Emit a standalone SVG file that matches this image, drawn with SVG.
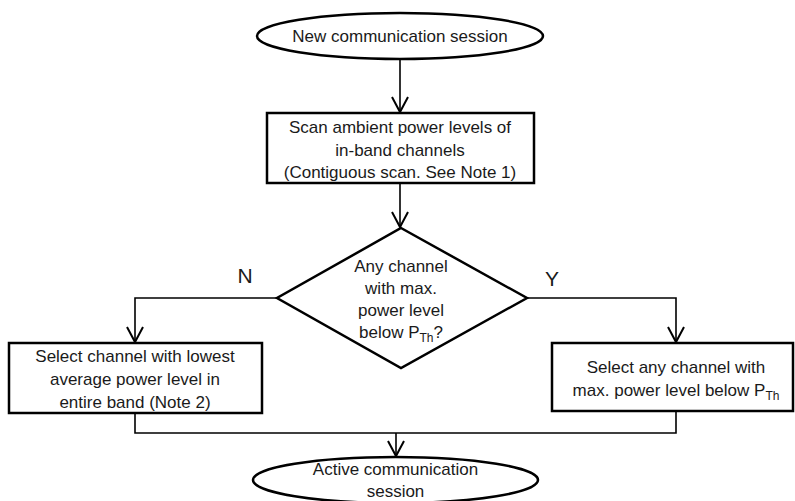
<svg xmlns="http://www.w3.org/2000/svg" width="795" height="501" viewBox="0 0 795 501">
<style>
.shape{fill:#fff;stroke:#000;stroke-width:2.5}
.conn{fill:none;stroke:#000;stroke-width:1.6}
text{font-family:"Liberation Sans",Arial,sans-serif;font-size:17px;fill:#1a1a1a;text-anchor:middle}
.lbl{font-size:21px}
.sub{font-size:12px}
</style>
<defs>
<marker id="arr" markerUnits="userSpaceOnUse" markerWidth="24" markerHeight="24" viewBox="-18 -12 24 24" refX="0" refY="0" orient="auto">
<path d="M-15,-8 L0,0 L-15,8" fill="none" stroke="#000" stroke-width="2"/>
</marker>
</defs>
<rect width="795" height="501" fill="#fff"/>
<g id="connectors">
<line class="conn" x1="400" y1="59" x2="400" y2="112" marker-end="url(#arr)"/>
<line class="conn" x1="400" y1="184" x2="400" y2="227" marker-end="url(#arr)"/>
<polyline class="conn" points="277,298 135,298 135,342" marker-end="url(#arr)"/>
<polyline class="conn" points="527,298 676,298 676,342" marker-end="url(#arr)"/>
<polyline class="conn" points="135,414 135,433 676,433 676,412"/>
<line class="conn" x1="396" y1="433" x2="396" y2="456" marker-end="url(#arr)"/>
<text class="lbl" x="245" y="283">N</text>
<text class="lbl" x="552" y="286">Y</text>
</g>
<g id="start">
<ellipse class="shape" cx="400" cy="36" rx="143" ry="23"/>
<text x="400" y="42">New communication session</text>
</g>
<g id="scan">
<rect class="shape" x="267" y="113" width="267" height="70"/>
<text x="400" y="133">Scan ambient power levels of</text>
<text x="400" y="156">in-band channels</text>
<text x="400" y="178">(Contiguous scan. See Note 1)</text>
</g>
<g id="decision">
<polygon class="shape" points="401,228 527,298 401,368 277,298"/>
<text x="401" y="272">Any channel</text>
<text x="401" y="294">with max.</text>
<text x="401" y="316">power level</text>
<text x="401" y="338">below P<tspan class="sub" dy="4">Th</tspan><tspan dy="-4">?</tspan></text>
</g>
<g id="select-lowest">
<rect class="shape" x="9" y="343" width="253" height="70"/>
<text x="135" y="362">Select channel with lowest</text>
<text x="135" y="385">average power level in</text>
<text x="135" y="408">entire band (Note 2)</text>
</g>
<g id="select-any">
<rect class="shape" x="552" y="343" width="241" height="68"/>
<text x="676" y="373">Select any channel with</text>
<text x="676" y="396">max. power level below P<tspan class="sub" dy="4">Th</tspan></text>
</g>
<g id="end">
<ellipse class="shape" cx="395.5" cy="480" rx="142.5" ry="23"/>
<text x="395.5" y="475">Active communication</text>
<text x="395.5" y="497">session</text>
</g>
</svg>
